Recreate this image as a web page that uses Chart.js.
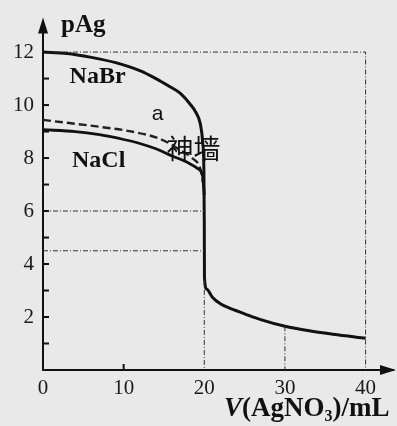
<!DOCTYPE html>
<html><head><meta charset="utf-8">
<script src="https://cdn.jsdelivr.net/npm/chart.js@4/dist/chart.umd.min.js"></script>
<style>html,body{margin:0;padding:0;background:#e9e9e9;}#c{display:block;}</style>
</head><body>
<canvas id="c" width="397" height="426"></canvas>
<script>
// Data
const naBrX = [0,3,6,9,12,14,15.7,17,18.2,19,19.5,19.8,19.95,20.0,20.02,20.3,21,22,23,25,27,30,33,36,40];
const naBrY = [12.0,11.95,11.8,11.6,11.3,11.0,10.7,10.45,10.05,9.7,9.3,8.6,7.5,5.5,3.5,3.05,2.75,2.5,2.35,2.12,1.9,1.65,1.48,1.35,1.2];
const naClX = [0,4,7,10,12,14,16,18,19.2,19.8,20.0];
const naClY = [9.07,9.0,8.88,8.7,8.55,8.35,8.08,7.82,7.6,7.3,6.6];
const aX = [0,3,7,11,14,15.7,17,18.5,19.5,20.0];
const aY = [9.44,9.33,9.18,9.0,8.78,8.55,8.3,8.0,7.6,6.8];
const guideLines = [
  [[0,12],[40,12],[40,0]],
  [[0,6],[20,6]],
  [[0,4.5],[20,4.5]],
  [[20,3.4],[20,0]],
  [[30,1.65],[30,0]]
];
const xTickLabels = [0,10,20,30,40];
const yTickLabels = [2,4,6,8,10,12];
const yMinorTicks = [1,2,3,4,5,6,7,8,9,10,11,12];
const xMinorTicks = [10];
const textLabels = [
  {t:'NaBr', x:3.3, y:11.05, font:'bold 24px "Liberation Serif"'},
  {t:'NaCl', x:3.6, y:7.9, font:'bold 24px "Liberation Serif"'},
  {t:'a', x:13.5, y:9.65, font:'21px "Liberation Sans"'},
  {t:'神墙', x:15.3, y:8.35, font:'27px "Noto Sans CJK SC"'}
];

const pts = (xs, ys) => xs.map((x,i)=>({x:x, y:ys[i]}));
const datasets = [];
guideLines.forEach(g => datasets.push({data:g.map(p=>({x:p[0],y:p[1]})), borderColor:'#333', borderWidth:1, borderDash:[5,2,1,2], pointRadius:0, tension:0}));
datasets.push({label:'NaBr', data:pts(naBrX,naBrY), borderColor:'#111', borderWidth:3, pointRadius:0, cubicInterpolationMode:'monotone'});
datasets.push({label:'NaCl', data:pts(naClX,naClY), borderColor:'#111', borderWidth:2.8, pointRadius:0, cubicInterpolationMode:'monotone'});
datasets.push({label:'a', data:pts(aX,aY), borderColor:'#222', borderWidth:2.4, borderDash:[8,4], pointRadius:0, cubicInterpolationMode:'monotone'});

const deco = {
  id:'deco',
  beforeDraw(chart){
    const c = chart.ctx; c.save(); c.fillStyle='#e9e9e9'; c.fillRect(0,0,chart.width,chart.height); c.restore();
  },
  afterDraw(chart){
    const c = chart.ctx, xs = chart.scales.x, ys = chart.scales.y, a = chart.chartArea;
    c.save();
    c.strokeStyle='#111'; c.lineWidth=2;
    yMinorTicks.forEach(v=>{const py=ys.getPixelForValue(v); c.beginPath(); c.moveTo(a.left, py); c.lineTo(a.left+6, py); c.stroke();});
    xMinorTicks.forEach(v=>{const px=xs.getPixelForValue(v); c.beginPath(); c.moveTo(px, a.bottom); c.lineTo(px, a.bottom-6); c.stroke();});
    // arrows
    c.fillStyle='#111';
    c.beginPath(); c.moveTo(a.left, a.top-4); c.lineTo(a.left-5, a.top+12); c.lineTo(a.left+5, a.top+12); c.closePath(); c.fill();
    c.beginPath(); c.moveTo(a.right+3, a.bottom); c.lineTo(a.right-13, a.bottom-5); c.lineTo(a.right-13, a.bottom+5); c.closePath(); c.fill();
    // y title
    c.fillStyle='#111'; c.textBaseline='middle'; c.textAlign='left';
    c.font='bold 25px "Liberation Serif"'; c.fillText('pAg', a.left+18, 26);
    // labels
    textLabels.forEach(l=>{c.font=l.font; c.textAlign='left'; c.fillText(l.t, xs.getPixelForValue(l.x), ys.getPixelForValue(l.y));});
    // x title
    let x = 224, y = 416;
    c.textAlign='left'; c.textBaseline='alphabetic';
    c.font='italic bold 27px "Liberation Serif"'; c.fillText('V', x, y); x += c.measureText('V').width;
    c.font='bold 27px "Liberation Serif"'; c.fillText('(AgNO', x, y); x += c.measureText('(AgNO').width;
    c.font='bold 16px "Liberation Serif"'; c.fillText('3', x, y+5); x += c.measureText('3').width;
    c.font='bold 27px "Liberation Serif"'; c.fillText(')/mL', x, y);
    c.restore();
  }
};

new Chart(document.getElementById('c'), {
  type:'line',
  data:{datasets},
  options:{
    responsive:false, animation:false,
    layout:{padding:{top:15,right:4,left:0,bottom:0}},
    plugins:{legend:{display:false}, tooltip:{enabled:false}},
    scales:{
      x:{type:'linear', min:0, max:43.4,
        afterFit(s){s.height=56;},
        afterBuildTicks(s){s.ticks = xTickLabels.map(v=>({value:v}));},
        grid:{display:false, drawTicks:false},
        border:{display:true, color:'#111', width:2},
        ticks:{color:'#1a1a1a', font:{family:'"Liberation Serif"', size:21}, padding:6, maxRotation:0, autoSkip:false}
      },
      y:{type:'linear', min:0, max:13.15,
        afterFit(s){s.width=43;},
        afterBuildTicks(s){s.ticks = yTickLabels.map(v=>({value:v}));},
        grid:{display:false, drawTicks:false},
        border:{display:true, color:'#111', width:2},
        ticks:{color:'#1a1a1a', font:{family:'"Liberation Serif"', size:21}, padding:9, autoSkip:false}
      }
    }
  },
  plugins:[deco]
});
</script>
</body></html>
